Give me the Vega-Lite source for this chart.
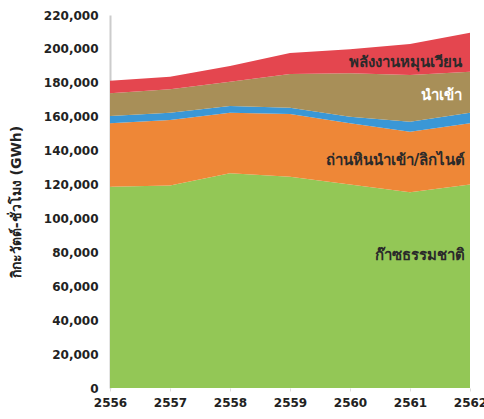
{
  "$schema": "https://vega.github.io/schema/vega-lite/v6.json",
  "width": 360,
  "height": 373,
  "autosize": {"type": "none"},
  "padding": {"left": 110, "top": 15, "right": 14, "bottom": 31},
  "background": "white",
  "config": {"view": {"stroke": null}, "font": "DejaVu Sans", "axis": {"labelOverlap": false}},
  "datasets": {
    "energy": [
      {"year": 2556, "source": "ก๊าซธรรมชาติ", "ord": 1, "gwh": 118700},
      {"year": 2557, "source": "ก๊าซธรรมชาติ", "ord": 1, "gwh": 119500},
      {"year": 2558, "source": "ก๊าซธรรมชาติ", "ord": 1, "gwh": 126600},
      {"year": 2559, "source": "ก๊าซธรรมชาติ", "ord": 1, "gwh": 124600},
      {"year": 2560, "source": "ก๊าซธรรมชาติ", "ord": 1, "gwh": 120000},
      {"year": 2561, "source": "ก๊าซธรรมชาติ", "ord": 1, "gwh": 115500},
      {"year": 2562, "source": "ก๊าซธรรมชาติ", "ord": 1, "gwh": 120000},
      {"year": 2556, "source": "ถ่านหินนำเข้า/ลิกไนต์", "ord": 2, "gwh": 37400},
      {"year": 2557, "source": "ถ่านหินนำเข้า/ลิกไนต์", "ord": 2, "gwh": 38550},
      {"year": 2558, "source": "ถ่านหินนำเข้า/ลิกไนต์", "ord": 2, "gwh": 35750},
      {"year": 2559, "source": "ถ่านหินนำเข้า/ลิกไนต์", "ord": 2, "gwh": 37000},
      {"year": 2560, "source": "ถ่านหินนำเข้า/ลิกไนต์", "ord": 2, "gwh": 36100},
      {"year": 2561, "source": "ถ่านหินนำเข้า/ลิกไนต์", "ord": 2, "gwh": 35700},
      {"year": 2562, "source": "ถ่านหินนำเข้า/ลิกไนต์", "ord": 2, "gwh": 36100},
      {"year": 2556, "source": "อื่นๆ", "ord": 3, "gwh": 4300},
      {"year": 2557, "source": "อื่นๆ", "ord": 3, "gwh": 4300},
      {"year": 2558, "source": "อื่นๆ", "ord": 3, "gwh": 3950},
      {"year": 2559, "source": "อื่นๆ", "ord": 3, "gwh": 3650},
      {"year": 2560, "source": "อื่นๆ", "ord": 3, "gwh": 3900},
      {"year": 2561, "source": "อื่นๆ", "ord": 3, "gwh": 5900},
      {"year": 2562, "source": "อื่นๆ", "ord": 3, "gwh": 6250},
      {"year": 2556, "source": "นำเข้า", "ord": 4, "gwh": 13400},
      {"year": 2557, "source": "นำเข้า", "ord": 4, "gwh": 13800},
      {"year": 2558, "source": "นำเข้า", "ord": 4, "gwh": 14350},
      {"year": 2559, "source": "นำเข้า", "ord": 4, "gwh": 19950},
      {"year": 2560, "source": "นำเข้า", "ord": 4, "gwh": 25600},
      {"year": 2561, "source": "นำเข้า", "ord": 4, "gwh": 27550},
      {"year": 2562, "source": "นำเข้า", "ord": 4, "gwh": 24200},
      {"year": 2556, "source": "พลังงานหมุนเวียน", "ord": 5, "gwh": 7400},
      {"year": 2557, "source": "พลังงานหมุนเวียน", "ord": 5, "gwh": 7400},
      {"year": 2558, "source": "พลังงานหมุนเวียน", "ord": 5, "gwh": 9250},
      {"year": 2559, "source": "พลังงานหมุนเวียน", "ord": 5, "gwh": 12400},
      {"year": 2560, "source": "พลังงานหมุนเวียน", "ord": 5, "gwh": 14150},
      {"year": 2561, "source": "พลังงานหมุนเวียน", "ord": 5, "gwh": 18300},
      {"year": 2562, "source": "พลังงานหมุนเวียน", "ord": 5, "gwh": 23000}
    ],
    "labels": [
      {"year": 2561.87, "gwh": 192300, "text": "พลังงานหมุนเวียน", "tone": "dark"},
      {"year": 2561.87, "gwh": 172800, "text": "นำเข้า", "tone": "light"},
      {"year": 2561.92, "gwh": 134500, "text": "ถ่านหินนำเข้า/ลิกไนต์", "tone": "dark"},
      {"year": 2561.92, "gwh": 78400, "text": "ก๊าซธรรมชาติ", "tone": "dark"}
    ]
  },
  "layer": [
    {
      "data": {"name": "energy"},
      "mark": {"type": "area", "interpolate": "linear"},
      "encoding": {
        "x": {
          "field": "year", "type": "quantitative",
          "scale": {"domain": [2556, 2562], "nice": false, "zero": false},
          "axis": {
            "values": [2556, 2557, 2558, 2559, 2560, 2561, 2562],
            "format": "d", "title": null, "grid": false,
            "domain": false, "ticks": true, "tickSize": 3, "tickColor": "#dddddd",
            "labelFont": "DejaVu Sans", "labelFontWeight": "bold", "labelFontSize": 12,
            "labelColor": "#222222", "labelPadding": 6, "labelFlush": false, "labelOverlap": false
          }
        },
        "y": {
          "field": "gwh", "type": "quantitative", "stack": "zero",
          "scale": {"domain": [0, 220000], "nice": false},
          "axis": {
            "values": [0, 20000, 40000, 60000, 80000, 100000, 120000, 140000, 160000, 180000, 200000, 220000],
            "format": ",d", "grid": false, "labelOverlap": false,
            "domain": true, "domainColor": "#cccccc", "domainWidth": 2,
            "ticks": false, "labelPadding": 12,
            "labelFont": "DejaVu Sans", "labelFontWeight": "bold", "labelFontSize": 12,
            "labelColor": "#222222",
            "title": "กิกะวัตต์-ชั่วโมง (GWh)",
            "titleFont": "DejaVu Sans", "titleFontWeight": "bold", "titleFontSize": 14,
            "titleColor": "#222222", "titlePadding": 20
          }
        },
        "color": {
          "field": "source", "type": "nominal", "legend": null,
          "scale": {
            "domain": ["ก๊าซธรรมชาติ", "ถ่านหินนำเข้า/ลิกไนต์", "อื่นๆ", "นำเข้า", "พลังงานหมุนเวียน"],
            "range": ["#93c756", "#ee8737", "#3a97d6", "#a88f58", "#e4464f"]
          }
        },
        "order": {"field": "ord", "type": "quantitative"}
      }
    },
    {
      "data": {"name": "labels"},
      "mark": {"type": "text", "align": "right", "baseline": "middle", "fontWeight": "bold", "fontSize": 15, "font": "DejaVu Sans"},
      "encoding": {
        "x": {
          "field": "year", "type": "quantitative",
          "axis": {
            "values": [2556, 2557, 2558, 2559, 2560, 2561, 2562],
            "format": "d", "title": null, "grid": false,
            "domain": false, "ticks": true, "tickSize": 3, "tickColor": "#dddddd",
            "labelFont": "DejaVu Sans", "labelFontWeight": "bold", "labelFontSize": 12,
            "labelColor": "#222222", "labelPadding": 6, "labelFlush": false, "labelOverlap": false
          }
        },
        "y": {
          "field": "gwh", "type": "quantitative",
          "axis": {
            "values": [0, 20000, 40000, 60000, 80000, 100000, 120000, 140000, 160000, 180000, 200000, 220000],
            "format": ",d", "grid": false, "labelOverlap": false,
            "domain": true, "domainColor": "#cccccc", "domainWidth": 2,
            "ticks": false, "labelPadding": 12,
            "labelFont": "DejaVu Sans", "labelFontWeight": "bold", "labelFontSize": 12,
            "labelColor": "#222222",
            "title": "กิกะวัตต์-ชั่วโมง (GWh)",
            "titleFont": "DejaVu Sans", "titleFontWeight": "bold", "titleFontSize": 14,
            "titleColor": "#222222", "titlePadding": 20
          }
        },
        "text": {"field": "text"},
        "color": {
          "field": "tone", "type": "nominal", "legend": null,
          "scale": {"domain": ["dark", "light"], "range": ["#2a2a2a", "#ffffff"]}
        }
      }
    }
  ],
  "resolve": {"scale": {"color": "independent"}}
}
